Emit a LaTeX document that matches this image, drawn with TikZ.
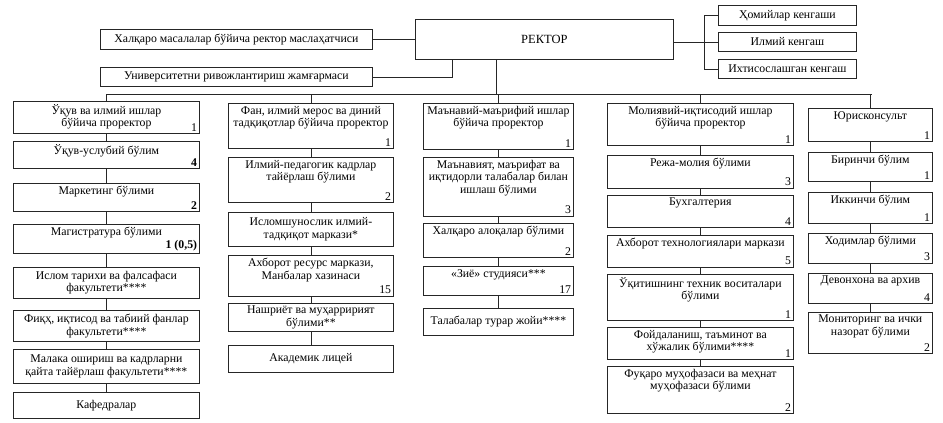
\documentclass[tikz,border=0pt]{standalone}
\usepackage{fontspec}
\setmainfont{Liberation Serif}
\tikzset{
  orgbox/.style={draw=black!85, line width=0.8pt, inner sep=0pt, fill=white},
  txt/.style={font=\fontsize{11.8}{12.5}\selectfont, align=center, inner sep=2.5pt},
  num/.style={font=\fontsize{11.8}{12.5}\selectfont, inner sep=2.5pt},
  conn/.style={draw=black!85, line width=0.8pt},
}
\newcommand\nbox[7]{%
  \pgfmathsetmacro\bw{#4-#2}\pgfmathsetmacro\bh{#5-#3}%
  \node[orgbox, minimum width=\bw pt, minimum height=\bh pt, anchor=north west] (#1) at (#2,#3) {};
  \node[txt, anchor=north] (#1t) at ([yshift=-0.5pt]#1.north) {#6};
  \node[num, anchor=south east] (#1n) at (#1.south east) {#7};
}
\newcommand\cbox[6]{%
  \pgfmathsetmacro\bw{#4-#2}\pgfmathsetmacro\bh{#5-#3}%
  \node[orgbox, minimum width=\bw pt, minimum height=\bh pt, anchor=north west] (#1) at (#2,#3) {};
  \node[txt] (#1t) at (#1.center) {#6};
}
\begin{document}
\begin{tikzpicture}[x=1pt,y=-1pt]
\useasboundingbox (0,0) rectangle (943,423);
% top level
\cbox{rector}{415}{19}{673}{59}{\fontsize{12.5}{14}\selectfont РЕКТОР}
\cbox{halq}{100}{29}{372}{49}{Халқаро масалалар бўйича ректор маслаҳатчиси}
\cbox{univ}{100}{67}{372}{86}{Университетни ривожлантириш жамғармаси}
\cbox{k1}{718}{5}{856}{25}{Ҳомийлар кенгаши}
\cbox{k2}{718}{32}{856}{51}{Илмий кенгаш}
\cbox{k3}{718}{59}{856}{78}{Ихтисослашган кенгаш}
% column 1
\nbox{a1}{13}{101}{199}{133}{Ўқув ва илмий ишлар\\бўйича проректор}{1}
\nbox{a2}{13}{141}{199}{168}{Ўқув-услубий бўлим}{\textbf{4}}
\nbox{a3}{13}{183}{199}{211}{Маркетинг бўлими}{\textbf{2}}
\nbox{a4}{13}{224}{199}{253}{Магистратура бўлими}{\textbf{1 (0,5)}}
\cbox{a5}{13}{267}{199}{298}{Ислом тарихи ва фалсафаси\\факультети****}
\cbox{a6}{13}{310}{199}{341}{Фиқҳ, иқтисод ва табиий фанлар\\факультети****}
\cbox{a7}{13}{349}{199}{383}{Малака ошириш ва кадрларни\\қайта тайёрлаш факультети****}
\cbox{a8}{13}{392}{199}{418}{Кафедралар}
% column 2
\nbox{b1}{228}{103}{393}{148}{Фан, илмий мерос ва диний\\тадқиқотлар бўйича проректор}{1}
\nbox{b2}{228}{157}{393}{202}{Илмий-педагогик кадрлар\\тайёрлаш бўлими}{2}
\cbox{b3}{228}{212}{393}{246}{Исломшунослик илмий-\\тадқиқот маркази*}
\nbox{b4}{228}{255}{393}{296}{Ахборот ресурс маркази,\\Манбалар хазинаси}{15}
\cbox{b5}{228}{303}{393}{331}{Нашриёт ва муҳарририят\\бўлими**}
\cbox{b6}{228}{345}{393}{372}{Академик лицей}
% column 3
\nbox{c1}{423}{103}{573}{149}{Маънавий-маърифий ишлар\\бўйича проректор}{1}
\nbox{c2}{423}{157}{573}{216}{Маънавият, маърифат ва\\иқтидорли талабалар билан\\ишлаш бўлими}{3}
\nbox{c3}{423}{223}{573}{257}{Халқаро алоқалар бўлими}{2}
\nbox{c4}{423}{266}{573}{295}{«Зиё» студияси***}{17}
\cbox{c5}{423}{308}{573}{335}{Талабалар турар жойи****}
% column 4
\nbox{d1}{607}{103}{793}{145}{Молиявий-иқтисодий ишлар\\бўйича проректор}{1}
\nbox{d2}{607}{155}{793}{188}{Режа-молия бўлими}{3}
\nbox{d3}{607}{195}{793}{227}{Бухгалтерия}{4}
\nbox{d4}{607}{235}{793}{267}{Ахборот технологиялари маркази}{5}
\nbox{d5}{607}{274}{793}{320}{Ўқитишнинг техник воситалари\\бўлими}{1}
\nbox{d6}{607}{327}{793}{359}{Фойдаланиш, таъминот ва\\хўжалик бўлими****}{1}
\nbox{d7}{607}{366}{793}{413}{Фуқаро муҳофазаси ва меҳнат\\муҳофазаси бўлими}{2}
% column 5
\nbox{e1}{808}{108}{932}{141}{Юрисконсульт}{1}
\nbox{e2}{808}{152}{932}{181}{Биринчи бўлим}{1}
\nbox{e3}{808}{192}{932}{223}{Иккинчи бўлим}{1}
\nbox{e4}{808}{233}{932}{263}{Ходимлар бўлими}{3}
\nbox{e5}{808}{273}{932}{303}{Девонхона ва архив}{4}
\nbox{e6}{808}{312}{932}{353}{Мониторинг ва ички\\назорат бўлими}{2}
% connectors at top
\coordinate (stem) at ([xshift=81pt]rector.south west);
\coordinate (ustem) at ([xshift=37pt]rector.south west);
\coordinate (busL) at (106,94);
\coordinate (busR) at (872,94);
\coordinate (cj) at (704,41);
\draw[conn] (halq.east) -- (halq.east -| rector.west);
\draw[conn] (univ.east) -| (ustem);
\draw[conn] (stem) -- (stem |- busL);
\draw[conn] (busL) -- (busR);
\draw[conn] (k2.west) -- (k2.west -| rector.east);
\draw[conn] (k1.west) -| (cj);
\draw[conn] (k3.west) -| (cj);
% bus to columns
\draw[conn] (a1.north) -- (a1.north |- busL);
\draw[conn] (b1.north) -- (b1.north |- busL);
\draw[conn] (c1.north) -- (c1.north |- busL);
\draw[conn] (d1.north) -- (d1.north |- busL);
\draw[conn] (e1.north) -- (e1.north |- busR);
% chains
\foreach \u/\v in {a1/a2,a2/a3,a3/a4,a4/a5,a5/a6,a6/a7,a7/a8,
                  b1/b2,b2/b3,b3/b4,b4/b5,b5/b6,
                  c1/c2,c2/c3,c3/c4,c4/c5,
                  d1/d2,d2/d3,d3/d4,d4/d5,d5/d6,d6/d7,
                  e1/e2,e2/e3,e3/e4,e4/e5,e5/e6}
  \draw[conn] (\u.south) -- (\v.north);
\end{tikzpicture}
\end{document}
